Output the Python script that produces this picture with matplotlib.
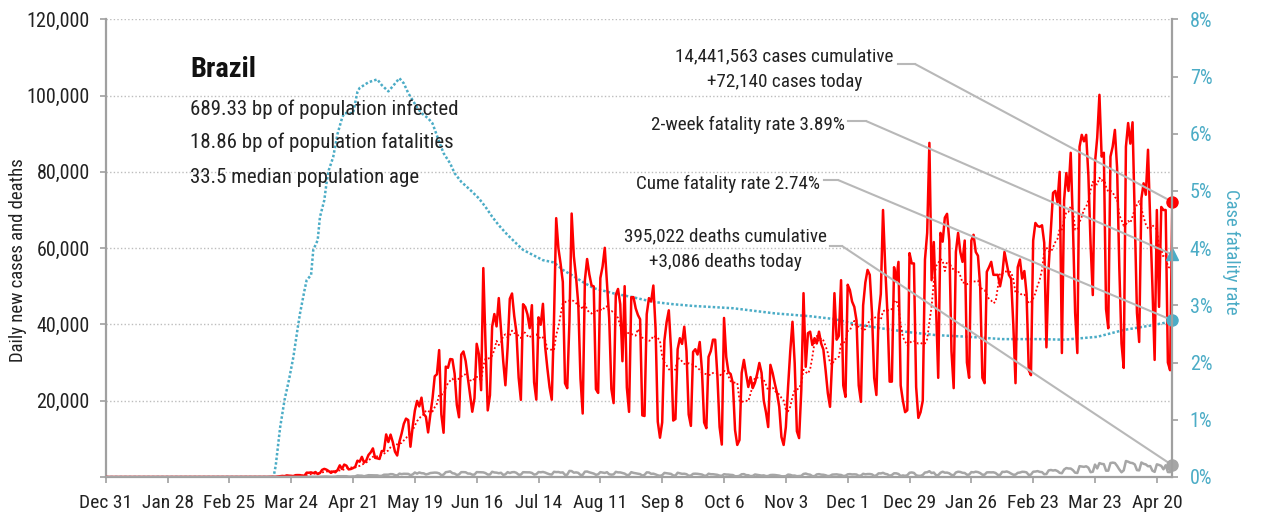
import numpy as np
import pandas as pd
import matplotlib
matplotlib.use("Agg")
import matplotlib.pyplot as plt
import matplotlib.dates as mdates
from matplotlib.patches import ConnectionPatch
from matplotlib.lines import Line2D

plt.rcParams['font.family'] = ['Roboto Condensed', 'DejaVu Sans']
plt.rcParams['font.stretch'] = 'condensed'

W, H = 1267, 516

start = "2019-12-31"
quiet_days = 55  # nothing reported before Mon Feb 24, 2020

# daily new cases in thousands, one row per week (Mon..Sun) from Feb 24, 2020
cases_k = [
    [0, 0, 0.001, 0, 0, 0.001, 0],
    [0, 0, 0.002, 0.004, 0.005, 0.006, 0.006],
    [0, 0.009, 0.015, 0, 0.021, 0.023, 0.079],
    [0.034, 0.057, 0.137, 0.193, 0.283, 0.224, 0.418],
    [0.345, 0.310, 0.232, 0.482, 0.502, 0.487, 0.352],
    [0.323, 1.138, 1.119, 1.208, 1.012, 1.304, 0.770],
    [1.031, 1.873, 2.136, 1.922, 1.546, 1.089, 1.465],
    [1.238, 1.832, 3.058, 2.105, 3.257, 2.976, 1.996],
    [2.089, 2.336, 2.678, 4.279, 4.007, 5.281, 3.776],
    [4.346, 5.789, 6.450, 7.502, 5.015, 4.898, 4.726],
    [6.794, 6.835, 11.156, 9.162, 11.121, 9.167, 6.638],
    [5.632, 9.258, 11.385, 13.944, 15.305, 14.919, 7.938],
    [13.140, 17.408, 19.951, 18.508, 20.803, 16.508, 15.813],
    [11.687, 16.324, 20.599, 26.417, 26.928, 33.274, 16.409],
    [11.598, 28.936, 28.633, 30.925, 30.830, 27.075, 18.921],
    [15.654, 32.091, 32.913, 30.412, 25.982, 21.704, 17.110],
    [20.647, 34.918, 32.188, 22.765, 54.771, 34.666, 17.459],
    [21.432, 39.436, 42.725, 39.483, 46.907, 38.693, 30.476],
    [24.052, 33.846, 46.712, 48.105, 42.223, 37.923, 26.051],
    [20.229, 45.305, 44.571, 42.619, 39.023, 45.048, 24.831],
    [20.286, 41.857, 39.924, 45.403, 34.177, 28.532, 23.529],
    [20.257, 41.008, 67.860, 59.961, 55.891, 51.147, 24.578],
    [23.284, 40.816, 69.074, 57.837, 52.383, 45.392, 25.800],
    [16.641, 51.603, 57.152, 53.139, 50.230, 49.970, 23.010],
    [22.048, 52.160, 55.155, 60.091, 50.644, 41.576, 23.101],
    [19.373, 47.784, 49.298, 45.323, 30.355, 50.032, 23.421],
    [17.078, 47.134, 47.161, 44.235, 42.489, 41.350, 16.158],
    [16.0, 42.7, 46.9, 46.0, 50.2, 39.0, 14.5],
    [10.3, 14.3, 35.8, 40.6, 43.7, 33.5, 14.8],
    [15.2, 33.5, 36.4, 34.9, 39.4, 33.0, 16.4],
    [13.4, 32.8, 33.5, 32.1, 35.4, 28.0, 14.3],
    [12.8, 31.5, 33.0, 36.0, 36.0, 26.5, 13.1],
    [8.5, 41.7, 31.5, 27.5, 27.0, 24.6, 12.3],
    [8.4, 9.7, 27.3, 30.7, 27.0, 23.6, 26.2],
    [23.3, 24.7, 27.0, 29.9, 27.3, 20.0, 17.0],
    [13.1, 29.4, 27.3, 24.5, 22.0, 18.4, 10.5],
    [8.4, 13.1, 23.6, 33.0, 40.7, 29.9, 12.0],
    [10.2, 22.8, 48.2, 28.9, 37.7, 38.1, 34.6],
    [36.4, 35.0, 38.1, 35.0, 33.4, 28.0, 22.0],
    [18.4, 31.0, 48.2, 36.0, 37.0, 51.6, 24.0],
    [21.0, 50.4, 49.0, 46.0, 44.6, 41.0, 24.0],
    [19.7, 45.0, 51.0, 54.3, 53.0, 43.0, 26.0],
    [21.5, 42.7, 48.0, 70.0, 55.0, 43.0, 25.0],
    [25.0, 55.0, 51.5, 56.4, 24.0, 20.0, 17.0],
    [17.5, 58.7, 56.0, 56.0, 23.6, 15.5, 17.0],
    [20.0, 57.0, 64.0, 87.6, 51.6, 61.6, 45.0],
    [26.0, 64.0, 61.7, 68.0, 69.0, 62.0, 33.0],
    [23.3, 59.0, 64.0, 59.0, 56.4, 62.0, 30.0],
    [26.0, 62.0, 63.5, 59.0, 58.0, 50.0, 26.0],
    [24.6, 53.8, 55.0, 56.4, 53.0, 53.0, 53.0],
    [50.0, 53.0, 59.0, 56.0, 53.0, 52.0, 40.0],
    [24.6, 55.0, 57.0, 52.0, 54.0, 48.0, 28.0],
    [26.7, 62.0, 66.6, 65.8, 65.6, 66.0, 61.4],
    [34.0, 55.0, 65.0, 74.5, 75.0, 72.0, 80.0],
    [32.5, 72.6, 79.7, 75.0, 85.0, 66.0, 43.0],
    [32.5, 86.6, 89.7, 88.0, 89.7, 79.0, 61.0],
    [47.7, 82.5, 89.0, 100.2, 84.0, 85.0, 44.0],
    [39.0, 84.0, 86.6, 91.0, 81.0, 55.0, 35.0],
    [28.6, 86.6, 92.8, 87.4, 93.0, 68.3, 43.0],
    [35.4, 73.0, 77.0, 74.0, 85.8, 67.0, 50.0],
    [30.7, 70.0, 44.6, 70.8, 70.0, 70.0, 30.0],
    [28.0, 72.14],
]

# daily new deaths, same weekly layout
deaths = [
    [0, 0, 0, 0, 0, 0, 0],
    [0, 0, 0, 0, 0, 0, 0],
    [0, 0, 0, 0, 0, 0, 0],
    [0, 1, 3, 3, 5, 7, 7],
    [9, 12, 11, 20, 15, 22, 22],
    [23, 42, 40, 58, 60, 73, 54],
    [67, 114, 133, 141, 115, 68, 99],
    [105, 204, 204, 188, 217, 206, 115],
    [113, 166, 165, 407, 357, 346, 189],
    [338, 474, 449, 435, 428, 421, 275],
    [296, 600, 615, 610, 751, 730, 496],
    [396, 881, 749, 844, 824, 816, 485],
    [674, 1179, 888, 1188, 1001, 965, 653],
    [807, 1039, 1086, 1156, 1124, 956, 480],
    [623, 1262, 1349, 1473, 1005, 904, 525],
    [679, 1272, 1274, 1239, 909, 892, 612],
    [627, 1282, 1269, 1238, 1206, 1022, 641],
    [654, 1374, 1185, 1141, 990, 1109, 552],
    [692, 1280, 1038, 1252, 1290, 1091, 602],
    [620, 1254, 1223, 1220, 1214, 1071, 631],
    [733, 1300, 1233, 1322, 1163, 921, 716],
    [632, 1367, 1284, 1311, 1156, 1211, 555],
    [614, 1595, 1554, 1129, 1212, 1088, 541],
    [561, 1394, 1437, 1226, 1079, 905, 572],
    [703, 1274, 1175, 1060, 1262, 709, 620],
    [684, 1352, 1212, 1204, 1055, 892, 494],
    [565, 1271, 1085, 984, 855, 758, 366],
    [553, 1215, 1184, 834, 874, 682, 447],
    [310, 476, 1075, 983, 874, 814, 415],
    [381, 1113, 968, 829, 858, 739, 335],
    [377, 836, 869, 831, 729, 648, 363],
    [335, 863, 729, 728, 654, 567, 363],
    [310, 734, 645, 626, 553, 511, 201],
    [200, 309, 716, 754, 497, 461, 230],
    [271, 660, 566, 497, 371, 432, 230],
    [263, 510, 548, 525, 459, 364, 190],
    [179, 225, 632, 561, 361, 383, 209],
    [250, 300, 800, 900, 700, 600, 230],
    [216, 676, 754, 616, 585, 458, 238],
    [302, 630, 654, 691, 587, 532, 272],
    [317, 697, 755, 672, 699, 654, 313],
    [376, 842, 696, 770, 776, 686, 279],
    [433, 964, 936, 1092, 823, 706, 315],
    [523, 968, 963, 794, 255, 419, 307],
    [461, 1111, 1194, 1074, 462, 314, 293],
    [543, 1171, 1242, 1524, 1035, 1171, 469],
    [480, 1110, 1382, 1131, 1151, 968, 551],
    [452, 1183, 1382, 1316, 1096, 1054, 592],
    [627, 1283, 1214, 1386, 1279, 1033, 595],
    [595, 1209, 1232, 1210, 1230, 1051, 547],
    [525, 1350, 1330, 1452, 1239, 898, 595],
    [614, 1086, 1167, 1367, 1340, 1212, 527],
    [635, 1386, 1428, 1541, 1337, 1275, 721],
    [778, 1726, 1840, 1699, 1800, 1555, 1086],
    [987, 1954, 2349, 2233, 2216, 1800, 1127],
    [1057, 2841, 2736, 2659, 2815, 2438, 1259],
    [1383, 3251, 2244, 3650, 3438, 3368, 1656],
    [1660, 3668, 3769, 3673, 2922, 1987, 1240],
    [1738, 4195, 4008, 3733, 3647, 3293, 1803],
    [1738, 3808, 3459, 3305, 2815, 2865, 1657],
    [1347, 3321, 3157, 2914, 2027, 3076, 1305],
    [1279, 3086],
]

# cumulative case fatality rate (%)
cfr_dates = [
    "2019-12-31", "2020-03-16", "2020-03-17", "2020-03-19", "2020-03-21",
    "2020-03-23", "2020-03-25", "2020-03-27", "2020-03-28", "2020-03-30",
    "2020-03-31", "2020-04-02", "2020-04-03", "2020-04-05", "2020-04-06",
    "2020-04-08", "2020-04-09", "2020-04-10", "2020-04-12", "2020-04-14",
    "2020-04-16", "2020-04-17", "2020-04-21", "2020-04-23", "2020-04-24",
    "2020-04-28", "2020-05-02", "2020-05-04", "2020-05-07", "2020-05-09",
    "2020-05-12", "2020-05-14", "2020-05-16", "2020-05-20", "2020-05-22",
    "2020-05-25", "2020-05-27", "2020-05-30", "2020-06-01", "2020-06-04",
    "2020-06-06", "2020-06-09", "2020-06-13", "2020-06-17", "2020-06-20",
    "2020-06-23", "2020-06-26", "2020-06-30", "2020-07-04", "2020-07-07",
    "2020-07-12", "2020-07-16", "2020-07-21", "2020-07-25", "2020-07-29",
    "2020-08-03", "2020-08-08", "2020-08-17", "2020-08-26", "2020-09-04",
    "2020-09-13", "2020-09-22", "2020-10-01", "2020-10-10", "2020-10-29",
    "2020-11-14", "2020-11-25", "2020-12-06", "2020-12-16", "2020-12-29",
    "2021-01-10", "2021-01-25", "2021-02-09", "2021-02-26", "2021-03-09",
    "2021-03-24", "2021-04-05", "2021-04-16", "2021-04-23", "2021-04-27",
]
cfr_pct = [
    0, 0, 0.2, 0.87, 1.35,
    1.7, 2.1, 2.62, 2.86, 3.26,
    3.44, 3.53, 3.97, 4.14, 4.54,
    4.84, 5.14, 5.36, 5.59, 6.0,
    6.27, 6.36, 6.36, 6.73, 6.8,
    6.9, 6.95, 6.85, 6.74, 6.83,
    6.97, 6.88, 6.71, 6.46, 6.36,
    6.27, 6.18, 5.86, 5.66, 5.48,
    5.31, 5.16, 5.02, 4.87, 4.72,
    4.55, 4.40, 4.23, 4.08, 3.97,
    3.87, 3.79, 3.75, 3.62, 3.53,
    3.41, 3.30, 3.21, 3.14, 3.06,
    3.02, 2.99, 2.97, 2.95, 2.86,
    2.81, 2.76, 2.66, 2.6, 2.53,
    2.48, 2.45, 2.41, 2.41, 2.4,
    2.45, 2.57, 2.64, 2.69, 2.74,
]

country = "Brazil"
stats = ["689.33 bp of population infected",
         "18.86 bp of population fatalities",
         "33.5 median population age"]
cum_cases = 14441563
cum_deaths = 395022
two_week_cfr = 3.89

RED = "#ff0000"
BLUE = "#4bacc6"
GRAY = "#a6a6a6"
SPINE = "#a0a0a0"
LEAD = "#b8b8b8"
INK = "#222222"

daily_cases = np.round(np.array([0.0] * quiet_days + [v for w in cases_k for v in w]) * 1000)
daily_deaths = np.array([0] * quiet_days + [v for w in deaths for v in w])
dates = pd.date_range(start, periods=len(daily_cases), freq="D")
avg7 = pd.Series(daily_cases, index=dates).rolling(7).mean()
cfr_x = pd.to_datetime(cfr_dates)


def fx(x):
    return x / W


def fy(y):
    return 1 - y / H


fig = plt.figure(figsize=(W / 100, H / 100), dpi=100)
ax = fig.add_axes([fx(105.7), fy(477), (1172.3 - 105.7) / W, (477 - 19.3) / H])
ax2 = ax.twinx()

ax.set_xlim(dates[0], dates[-1])
ax.set_ylim(0, 120000)
ax2.set_ylim(0, 8)

# right-axis series is drawn in the left axes so it sits under the red line
ax.plot(cfr_x, cfr_pct, color=BLUE, lw=1.8, linestyle=(0, (1, 0.85)),
        transform=ax2.transData, zorder=2)
ax.plot(dates, daily_cases, color=RED, lw=1.8, zorder=3)
ax.plot(dates, avg7, color=RED, lw=1.3, linestyle=(0, (1, 1.3)), zorder=3.2)
ax.plot(dates, daily_deaths, color=GRAY, lw=1.8, zorder=3.5)

yt = list(range(0, 120001, 20000))
ax.set_yticks(yt)
ax.set_yticklabels([""] + [f"{v:,}" for v in yt[1:]])
ax.yaxis.grid(True, color="#bdbdbd", lw=1, linestyle=(0, (1, 1.6)))
ax.set_axisbelow(True)

ticks = pd.date_range(start, periods=18, freq="28D")
ax.set_xticks(ticks)
ax.set_xticklabels([f"{d:%b} {d.day}" for d in ticks])

ax2.set_yticks(range(0, 9))
ax2.set_yticklabels([f"{v}%" for v in range(0, 9)])

for a in (ax, ax2):
    a.spines["top"].set_visible(False)
    for s in a.spines.values():
        s.set_color(SPINE)
        s.set_linewidth(1.6)
ax.spines["right"].set_visible(False)
ax2.spines["left"].set_visible(False)
ax2.spines["bottom"].set_visible(False)

ax.tick_params(axis="y", direction="out", length=4.5, width=1.2, color=SPINE,
               labelsize=14.5, labelcolor=INK, pad=7)
ax.tick_params(axis="x", direction="out", length=4.5, width=1.2, color=SPINE,
               labelsize=14, labelcolor=INK, pad=7.5)
ax2.tick_params(axis="y", direction="out", length=4.5, width=1.2, color=SPINE,
                labelsize=14.5, labelcolor=BLUE, pad=8)

fig.text(fx(18), fy(260), "Daily new cases and deaths", rotation=90,
         ha="center", va="center", fontsize=13.5, color=INK)
fig.text(fx(1231), fy(252), "Case fatality rate", rotation=270,
         ha="center", va="center", fontsize=13.5, color=BLUE)

# country block
fig.text(fx(190), fy(76.7), country, fontsize=20.5, fontweight="bold",
         color="#111111", va="baseline")
for yb, line in zip([115, 148.3, 182.7], stats):
    fig.text(fx(190), fy(yb), line, fontsize=15, color=INK, va="baseline")

# end-of-series markers
last = dates[-1]
last_num = mdates.date2num(last)
ax.plot([last], [daily_cases[-1]], "o", color=RED, ms=8, zorder=6, clip_on=False)
ax.plot([last], [daily_deaths[-1]], "o", color=GRAY, ms=8, zorder=6, clip_on=False)
ax.plot([last_num], [two_week_cfr], "^", color=BLUE, ms=9, zorder=6, clip_on=False,
        transform=ax2.transData)
ax.plot([last_num], [cfr_pct[-1]], "o", color=BLUE, ms=8, zorder=6, clip_on=False,
        transform=ax2.transData)


def leader(y, x0, x1, target, trans):
    ax.add_line(Line2D([fx(x0), fx(x1)], [fy(y), fy(y)], transform=fig.transFigure,
                       color=LEAD, lw=1.5, zorder=4, clip_on=False))
    cp = ConnectionPatch(xyA=(fx(x1), fy(y)), coordsA=fig.transFigure,
                         xyB=target, coordsB=trans, color=LEAD, lw=1.5, zorder=4)
    cp.set_clip_on(False)
    ax.add_artist(cp)


# annotations
fs = 13.8
fig.text(fx(784.5), fy(61.7), f"{cum_cases:,} cases cumulative", ha="center",
         va="baseline", fontsize=fs, color=INK)
fig.text(fx(784.5), fy(87), f"+{int(daily_cases[-1]):,} cases today", ha="center",
         va="baseline", fontsize=fs, color=INK)
leader(64, 898, 915, (last_num, daily_cases[-1]), ax.transData)

fig.text(fx(845), fy(130), f"2-week fatality rate {two_week_cfr:.2f}%", ha="right",
         va="baseline", fontsize=fs, color=INK)
leader(121, 848, 866, (last_num, two_week_cfr), ax2.transData)

fig.text(fx(820), fy(189), f"Cume fatality rate {cfr_pct[-1]:.2f}%", ha="right",
         va="baseline", fontsize=fs, color=INK)
leader(180, 824, 838, (last_num, cfr_pct[-1]), ax2.transData)

fig.text(fx(725), fy(241.7), f"{cum_deaths:,} deaths cumulative", ha="center",
         va="baseline", fontsize=fs, color=INK)
fig.text(fx(725), fy(267), f"+{daily_deaths[-1]:,} deaths today", ha="center",
         va="baseline", fontsize=fs, color=INK)
leader(246, 830, 842, (last_num, daily_deaths[-1]), ax.transData)

fig.savefig("out.png", dpi=100)
